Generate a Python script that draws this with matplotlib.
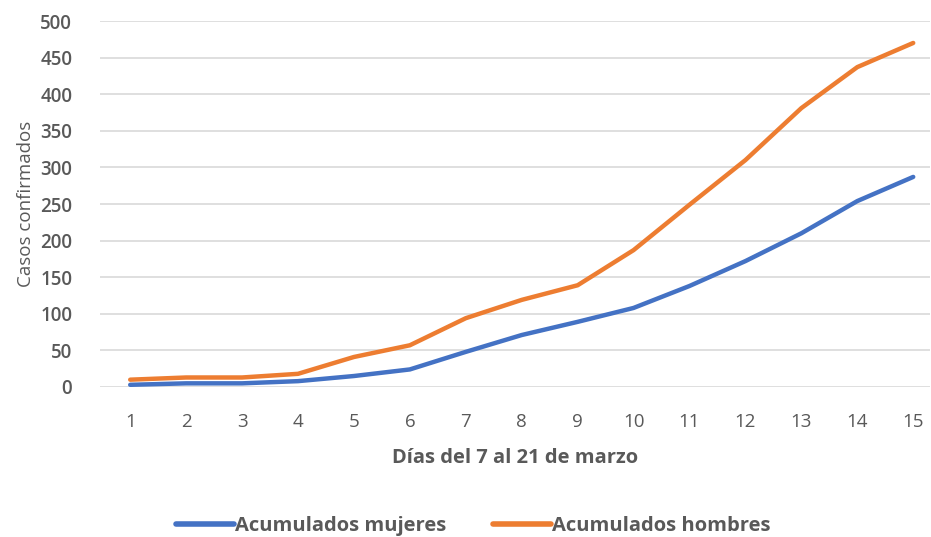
import matplotlib.pyplot as plt

# casos acumulados por día (7 al 21 de marzo)
dias = list(range(1, 16))
mujeres = [3, 5, 5, 8, 15, 24, 48, 71, 89, 108, 138, 172, 210, 254, 287]
hombres = [10, 13, 13, 18, 41, 57, 94, 119, 139, 187, 249, 310, 381, 437, 470]
yticks = [0, 50, 100, 150, 200, 250, 300, 350, 400, 450, 500]

plt.rcParams['font.family'] = ['Open Sans', 'DejaVu Sans']
gris = '#595959'

fig = plt.figure(figsize=(9.31, 5.37), dpi=100)
ax = fig.add_axes([100 / 931, 150 / 537, 830 / 931, 366 / 537])

ax.plot(dias, mujeres, color='#4472C4', lw=3.2, solid_capstyle='round',
        label='Acumulados mujeres')
ax.plot(dias, hombres, color='#ED7D31', lw=3.2, solid_capstyle='round',
        label='Acumulados hombres')

ax.set_xlim(0.46, 15.3)
ax.set_ylim(0, 500)
ax.set_xticks(dias)
ax.set_yticks(yticks)
ax.grid(axis='y', color='#D9D9D9', lw=1.2)
ax.set_axisbelow(True)
for s in ax.spines.values():
    s.set_visible(False)
ax.tick_params(length=0, labelsize=13.5, colors=gris)
ax.tick_params(axis='x', pad=19)
ax.tick_params(axis='y', pad=20)
for lab in ax.get_yticklabels():
    lab.set_fontweight('semibold')

ax.set_xlabel('Días del 7 al 21 de marzo', fontsize=14.5, color=gris,
              fontweight='bold', labelpad=12)
ax.set_ylabel('Casos confirmados', fontsize=13.5, color=gris, labelpad=4)

leg = fig.legend(loc='center', bbox_to_anchor=(473 / 931, 1 - 526 / 537),
                 ncol=2, frameon=False, handlelength=2.9, handletextpad=0.05,
                 columnspacing=2.3, prop={'size': 14.5, 'weight': 'bold'})
for t in leg.get_texts():
    t.set_color(gris)
for h in leg.get_lines():
    h.set_linewidth(4)

fig.savefig('out.png', dpi=100)
